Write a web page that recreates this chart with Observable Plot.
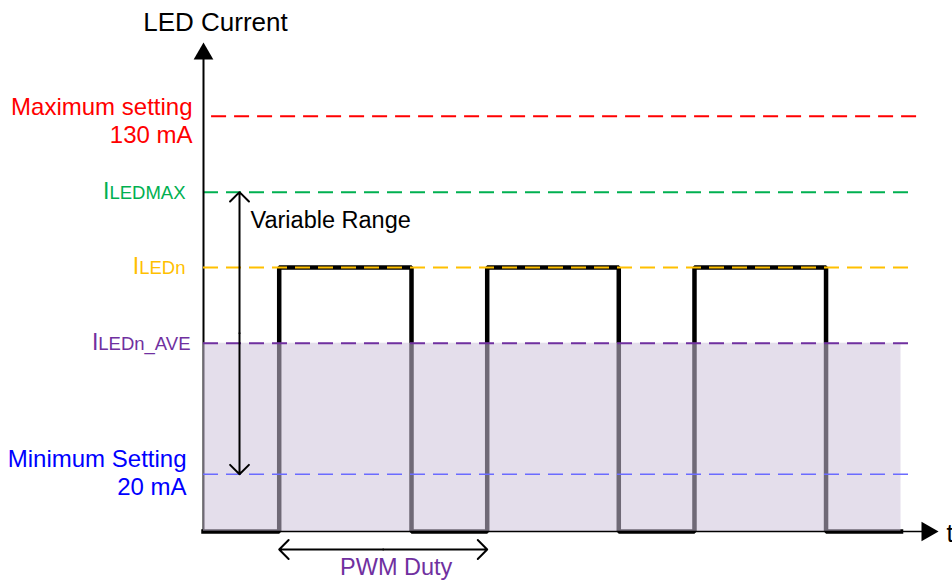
<!DOCTYPE html>
<html><head><meta charset="utf-8">
<script src="https://cdn.jsdelivr.net/npm/d3@7"></script>
<script src="https://cdn.jsdelivr.net/npm/@observablehq/plot@0.6"></script>
<style>
html,body{margin:0;padding:0;background:#fff;}
#chart svg{display:block;overflow:visible;}
</style></head><body><div id="chart"></div>
<script>
// ---- Data (schematic levels, relative units) ----
const levelKeys   = ["min", "ave", "iledn", "iledmax", "max"];
const levelValues = [11.7, 38.5, 54.0, 69.4, 84.9];
const levelLabels = ["Minimum Setting\n20 mA", "I|LEDn_AVE", "I|LEDn", "I|LEDMAX", "Maximum setting\n130 mA"];
const riseTimes = [1.03, 3.86, 6.68];
const fallTimes = [2.83, 5.65, 8.47];
const endTime = 9.49;
const yAxisTitle = "LED Current";
const xAxisTitle = "t";
const rangeLabel = "Variable Range";
const dutyLabel = "PWM Duty";

// ---- Styles ----
const FONT = "'Liberation Sans', Arial, Helvetica, sans-serif";
const lineColor  = {min: "#6b6bff", ave: "#7030a0", iledn: "#ffc000", iledmax: "#00b050", max: "#ff0000"};
const labelColor = {min: "#0000ff", ave: "#7030a0", iledn: "#ffc000", iledmax: "#00b050", max: "#ff0000"};
const labelDx = {min: -17, ave: -13, iledn: -18, iledmax: -18, max: -11};
const labelDy = {min: 21, ave: 6.5, iledn: 6.5, iledmax: 6.5, max: 27};
const lineExtent = {min: [0, 9.66], ave: [0, 9.66], iledn: [0, 9.66], iledmax: [0, 9.66], max: [0.11, 9.77]};

const levels = levelKeys.map((k, i) => ({key: k, value: levelValues[i], label: levelLabels[i]}));
const L = Object.fromEntries(levels.map(d => [d.key, d.value]));

// waveform path from rise/fall times
const wave = [{t: 0, v: 0}];
riseTimes.forEach((r, i) => {
  wave.push({t: r, v: 0}, {t: r, v: L.iledn}, {t: fallTimes[i], v: L.iledn}, {t: fallTimes[i], v: 0});
});
wave.push({t: endTime, v: 0});

const rangeX = 0.49;
const dutyY = -3.68;
const rangeMid = (L.iledmax + L.min) / 2;
const dutyMid = (riseTimes[0] + riseTimes[1]) / 2;

function dashed(keys) {
  return Plot.ruleY(levels.filter(d => keys.includes(d.key)), {
    y: "value",
    x1: d => lineExtent[d.key][0],
    x2: d => lineExtent[d.key][1],
    stroke: d => lineColor[d.key],
    strokeWidth: d => d.key === "min" ? 1.6 : 2,
    strokeDasharray: "15,8"
  });
}
function levelText(key) {
  return Plot.text(levels.filter(d => d.key === key), {
    x: 0, y: "value", text: "label",
    textAnchor: "end", lineAnchor: "bottom", lineHeight: 1.17,
    dx: labelDx[key], dy: labelDy[key],
    fill: labelColor[key], fontSize: 24
  });
}

const plot = Plot.plot({
  width: 952, height: 580,
  marginTop: 0, marginRight: 0, marginBottom: 0, marginLeft: 0,
  x: {type: "linear", domain: [0, 10], range: [203, 938], axis: null},
  y: {type: "linear", domain: [0, 100], range: [531, 42], axis: null},
  style: {fontFamily: FONT, background: "white", overflow: "visible"},
  marks: [
    dashed(["max", "iledmax"]),
    Plot.line(wave, {x: "t", y: "v", stroke: "black", strokeWidth: 4.5, strokeLinejoin: "miter", strokeLinecap: "square", curve: "linear"}),
    Plot.ruleX([0], {y1: 0, y2: 97, stroke: "black", strokeWidth: 2}),
    Plot.rect([{x1: 0, x2: endTime, y1: 0, y2: L.ave}], {x1: "x1", x2: "x2", y1: "y1", y2: "y2", fill: "#cdc2da", fillOpacity: 0.54}),
    Plot.ruleY([0], {x1: 0, x2: 9.8, stroke: "black", strokeWidth: 1.6}),
    Plot.dot([{x: 0, y: 100}], {x: "x", y: "y", symbol: "triangle", r: 7.3, fill: "black", stroke: null, dy: 11.3}),
    Plot.dot([{x: 10, y: 0}], {x: "x", y: "y", symbol: "triangle", r: 7.3, fill: "black", stroke: null, rotate: 90, dx: -11.3}),
    dashed(["iledn", "ave", "min"]),
    Plot.arrow([{x1: rangeX, y1: rangeMid, x2: rangeX, y2: L.iledmax}, {x1: rangeX, y1: rangeMid, x2: rangeX, y2: L.min}],
      {x1: "x1", y1: "y1", x2: "x2", y2: "y2", stroke: "black", strokeWidth: 2, headAngle: 90, headLength: 10}),
    Plot.arrow([{x1: dutyMid, y1: dutyY, x2: riseTimes[0], y2: dutyY}, {x1: dutyMid, y1: dutyY, x2: riseTimes[1], y2: dutyY}],
      {x1: "x1", y1: "y1", x2: "x2", y2: "y2", stroke: "black", strokeWidth: 2, headAngle: 90, headLength: 10}),
    ...levelKeys.map(levelText),
    Plot.text([yAxisTitle], {x: 0, y: 100, text: d => d, dx: 12, dy: -12, textAnchor: "middle", lineAnchor: "bottom", fontSize: 26, fill: "black"}),
    Plot.text([xAxisTitle], {x: 10, y: 0, text: d => d, dx: 8, dy: 10, textAnchor: "start", lineAnchor: "bottom", fontSize: 25, fill: "black"}),
    Plot.text([rangeLabel], {x: rangeX, y: L.iledmax, text: d => d, dx: 11, dy: 36.3, textAnchor: "start", lineAnchor: "bottom", fontSize: 23.5, fill: "black"}),
    Plot.text([dutyLabel], {x: dutyMid, y: dutyY, text: d => d, dx: 13, dy: 26, textAnchor: "middle", lineAnchor: "bottom", fontSize: 23.5, fill: "#7030a0"})
  ]
});

// split "I|LEDxxx" labels into a large I and smaller remainder
d3.select(plot).selectAll("text").each(function() {
  const t = this.textContent;
  if (this.children.length === 0 && t.includes("|")) {
    const [a, b] = t.split("|");
    const sel = d3.select(this);
    sel.text(null);
    sel.append("tspan").attr("font-size", 23).text(a);
    sel.append("tspan").attr("font-size", 18.5).text(b);
  }
});

document.getElementById("chart").appendChild(plot);
</script>
</body></html>
